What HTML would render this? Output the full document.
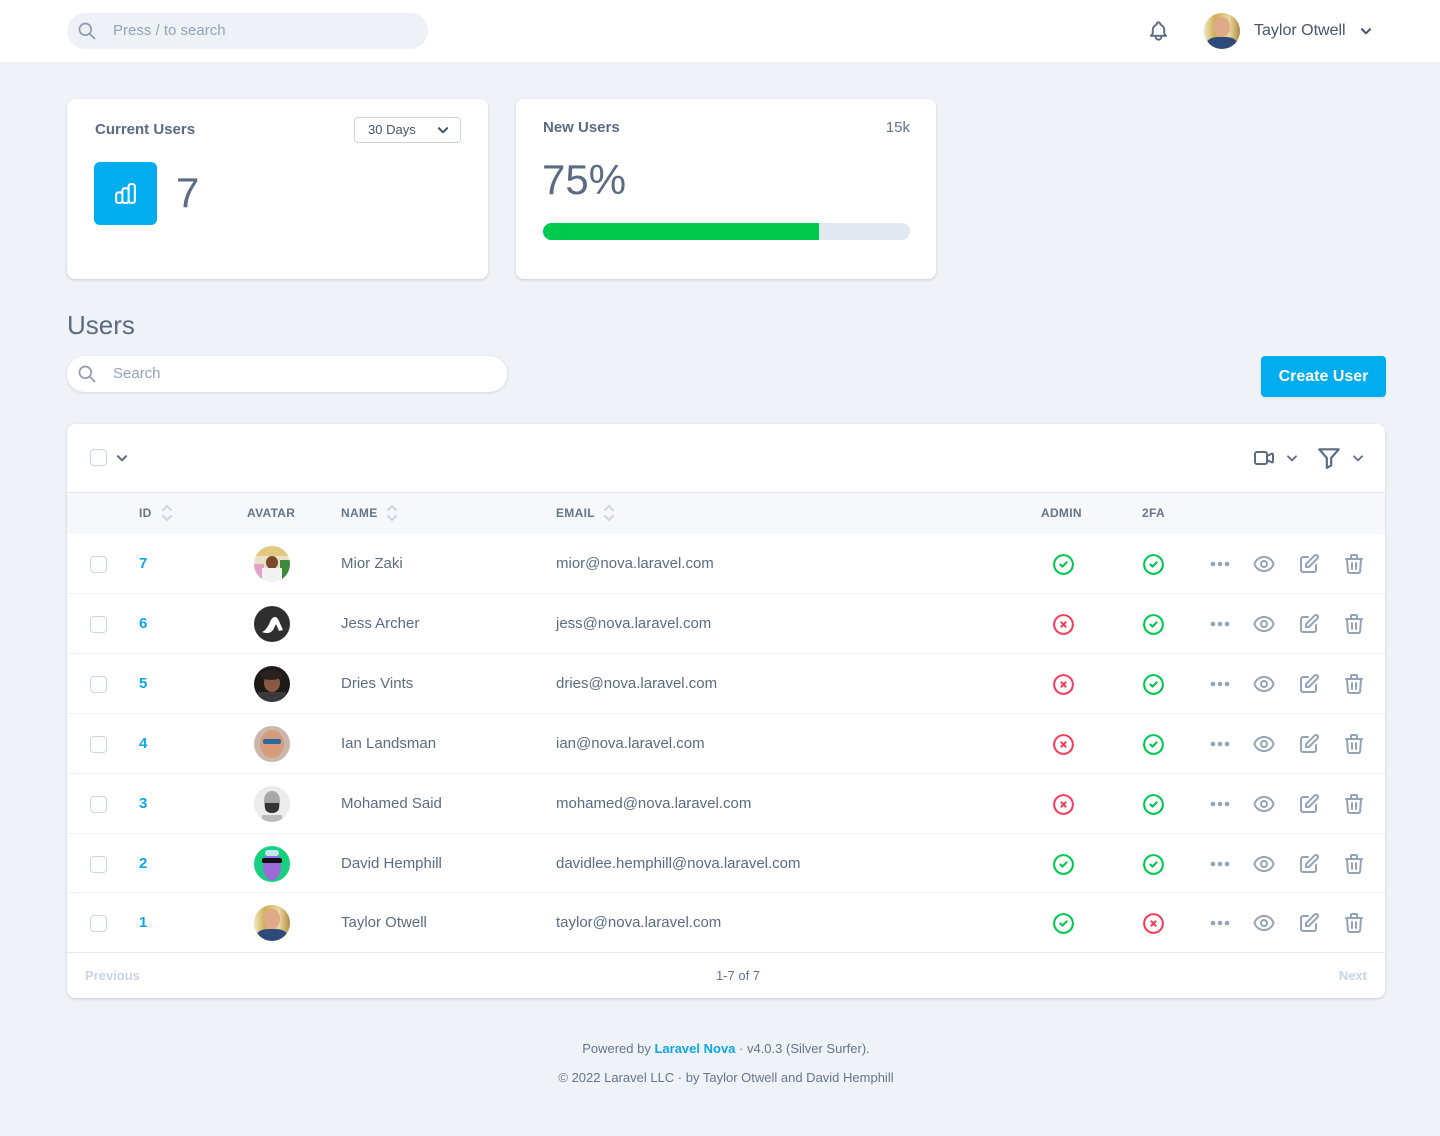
<!DOCTYPE html>
<html><head><meta charset="utf-8"><style>
*{margin:0;padding:0;box-sizing:border-box}
body{width:1440px;height:1136px;background:#eff3f8;font-family:"Liberation Sans",sans-serif;position:relative;overflow:hidden;color:#64748b}
.a{position:absolute}
.t{position:absolute;white-space:nowrap}
svg{display:block}
.card{position:absolute;background:#fff;border-radius:8px;box-shadow:0 1px 3px rgba(15,23,42,.12),0 1px 2px rgba(15,23,42,.06)}
.cb{position:absolute;width:17px;height:17px;border:1.5px solid #cbd5e1;border-radius:4px;background:#fff}
.th{position:absolute;font-size:12px;font-weight:bold;color:#64748b;letter-spacing:.3px;line-height:14px}
.id{position:absolute;font-size:15px;font-weight:bold;color:#0ea5e9;line-height:18px}
.nm{position:absolute;font-size:15px;color:#5b6b82;line-height:18px}
.sep{position:absolute;left:67px;width:1318px;height:1px;background:#eef2f6}
.av{position:absolute;width:36px;height:36px;border-radius:50%;overflow:hidden}
</style></head><body>

<!-- header -->
<div class="a" style="left:0;top:0;width:1440px;height:62px;background:#fff"></div>
<div class="a" style="left:67px;top:13px;width:361px;height:36px;border-radius:18px;background:#eef2f7"></div>
<svg class="a" style="left:77px;top:21px" width="20" height="20" viewBox="0 0 24 24" fill="none" stroke="#8a9ab0" stroke-width="2" stroke-linecap="round"><path d="M21 21l-6-6m2-5a7 7 0 11-14 0 7 7 0 0114 0z"/></svg>
<div class="t" style="left:113px;top:22px;font-size:15px;line-height:18px;color:#94a3b8">Press / to search</div>

<svg class="a" style="left:1147px;top:19px" width="23" height="24" viewBox="0 0 24 24" fill="none" stroke="#5b6b82" stroke-width="2" stroke-linecap="round" stroke-linejoin="round"><path d="M15 17h5l-1.405-1.405A2.032 2.032 0 0118 14.158V11a6.002 6.002 0 00-4-5.659V5a2 2 0 10-4 0v.341C7.670 6.165 6 8.388 6 11v3.159c0 .538-.214 1.055-.595 1.436L4 17h5m6 0v1a3 3 0 11-6 0v-1m6 0H9"/></svg>
<div class="av" style="left:1204px;top:13px;background:#d9c48a">
 <div class="a" style="left:0;top:0;width:36px;height:36px;background:linear-gradient(90deg,#f1e7c0 0%,#cfae5a 30%,#e8d9a0 70%,#b08a40 100%)"></div>
 <div class="a" style="left:10px;top:4px;width:16px;height:20px;border-radius:50%;background:#e0a98a"></div>
 <div class="a" style="left:3px;top:24px;width:30px;height:14px;border-radius:40% 40% 0 0;background:#2d4a7a"></div>
</div>
<div class="t" style="left:1254px;top:21px;font-size:16px;line-height:20px;color:#475569">Taylor Otwell</div>
<svg class="a" style="left:1359px;top:24px" width="14" height="14" viewBox="0 0 24 24" fill="none" stroke="#475569" stroke-width="3.5" stroke-linecap="round" stroke-linejoin="round"><path d="M19 9l-7 7-7-7"/></svg>

<!-- card 1 -->
<div class="card" style="left:67px;top:99px;width:421px;height:180px"></div>
<div class="t" style="left:95px;top:121px;font-size:15px;font-weight:bold;line-height:18px;color:#5b6b82">Current Users</div>
<div class="a" style="left:354px;top:117px;width:107px;height:26px;border:1px solid #cbd5e1;border-radius:4px;background:#fff"></div>
<div class="t" style="left:368px;top:122px;font-size:13px;line-height:16px;color:#475569">30 Days</div>
<svg class="a" style="left:436px;top:123px" width="14" height="14" viewBox="0 0 24 24" fill="none" stroke="#475569" stroke-width="3.5" stroke-linecap="round" stroke-linejoin="round"><path d="M19 9l-7 7-7-7"/></svg>
<div class="a" style="left:94px;top:162px;width:63px;height:63px;border-radius:6px;background:#01adef"></div>
<svg class="a" style="left:113px;top:181px" width="25" height="25" viewBox="0 0 24 24" fill="none" stroke="#fff" stroke-width="2" stroke-linecap="round" stroke-linejoin="round"><path d="M9 19v-6a2 2 0 00-2-2H5a2 2 0 00-2 2v6a2 2 0 002 2h2a2 2 0 002-2zm0 0V9a2 2 0 012-2h2a2 2 0 012 2v10m-6 0a2 2 0 002 2h2a2 2 0 002-2m0 0V5a2 2 0 012-2h2a2 2 0 012 2v14a2 2 0 01-2 2h-2a2 2 0 01-2-2z"/></svg>
<div class="t" style="left:176px;top:169px;font-size:42px;line-height:48px;color:#5b6b82">7</div>

<!-- card 2 -->
<div class="card" style="left:516px;top:99px;width:420px;height:180px"></div>
<div class="t" style="left:543px;top:119px;font-size:15px;font-weight:bold;line-height:18px;color:#5b6b82">New Users</div>
<div class="t" style="left:870px;top:119px;width:40px;text-align:right;font-size:15px;line-height:18px;color:#64748b">15k</div>
<div class="t" style="left:542px;top:155px;font-size:42px;line-height:50px;color:#5b6b82">75%</div>
<div class="a" style="left:543px;top:223px;width:367px;height:17px;border-radius:9px;background:#e2e8f0;overflow:hidden">
 <div class="a" style="left:0;top:0;width:276px;height:17px;background:#00c94f"></div>
</div>

<!-- Users heading -->
<div class="t" style="left:67px;top:309px;font-size:26px;line-height:32px;color:#5b6b82">Users</div>
<div class="a" style="left:67px;top:356px;width:440px;height:36px;border-radius:18px;background:#fff;box-shadow:0 1px 3px rgba(15,23,42,.12)"></div>
<svg class="a" style="left:77px;top:364px" width="20" height="20" viewBox="0 0 24 24" fill="none" stroke="#8a9ab0" stroke-width="2" stroke-linecap="round"><path d="M21 21l-6-6m2-5a7 7 0 11-14 0 7 7 0 0114 0z"/></svg>
<div class="t" style="left:113px;top:365px;font-size:15px;line-height:18px;color:#94a3b8">Search</div>
<div class="a" style="left:1261px;top:356px;width:125px;height:41px;border-radius:4px;background:#01adef;box-shadow:0 1px 2px rgba(0,0,0,.08)"></div>
<div class="t" style="left:1261px;top:367px;width:125px;text-align:center;font-size:16px;font-weight:bold;line-height:19px;color:#fff">Create User</div>

<!-- table card -->
<div class="card" style="left:67px;top:424px;width:1318px;height:574px;overflow:hidden">
 <div class="a" style="left:0;top:68px;width:1318px;height:1px;background:#e2e8f0"></div>
 <div class="a" style="left:0;top:69px;width:1318px;height:41px;background:#f6f8fb"></div>
 <div class="a" style="left:0;top:528px;width:1318px;height:1px;background:#e2e8f0"></div>
</div>
<div class="cb" style="left:90px;top:449px"></div>
<svg class="a" style="left:115px;top:451px" width="14" height="14" viewBox="0 0 24 24" fill="none" stroke="#5b6b82" stroke-width="3.5" stroke-linecap="round" stroke-linejoin="round"><path d="M19 9l-7 7-7-7"/></svg>
<svg class="a" style="left:1252px;top:446px" width="24" height="24" viewBox="0 0 24 24" fill="none" stroke="#5b6b82" stroke-width="2" stroke-linecap="round" stroke-linejoin="round"><path d="M15 10l4.553-2.276A1 1 0 0121 8.618v6.764a1 1 0 01-1.447.894L15 14M5 18h8a2 2 0 002-2V8a2 2 0 00-2-2H5a2 2 0 00-2 2v8a2 2 0 002 2z"/></svg>
<svg class="a" style="left:1285px;top:451px" width="14" height="14" viewBox="0 0 24 24" fill="none" stroke="#5b6b82" stroke-width="3" stroke-linecap="round" stroke-linejoin="round"><path d="M19 9l-7 7-7-7"/></svg>
<svg class="a" style="left:1316px;top:445px" width="26" height="26" viewBox="0 0 24 24" fill="none" stroke="#5b6b82" stroke-width="2" stroke-linecap="round" stroke-linejoin="round"><path d="M3 4h18l-7 8v7l-4 2v-9z"/></svg>
<svg class="a" style="left:1351px;top:451px" width="14" height="14" viewBox="0 0 24 24" fill="none" stroke="#5b6b82" stroke-width="3" stroke-linecap="round" stroke-linejoin="round"><path d="M19 9l-7 7-7-7"/></svg>

<!-- header row -->
<div class="th" style="left:139px;top:506px">ID</div>
<svg class="a" style="left:160px;top:503px" width="14" height="20" viewBox="0 0 14 20" fill="none" stroke="#cbd5e1" stroke-width="2" stroke-linecap="round" stroke-linejoin="round"><path d="M3 7l4-4 4 4M3 13l4 4 4-4"/></svg>
<div class="th" style="left:247px;top:506px">AVATAR</div>
<div class="th" style="left:341px;top:506px">NAME</div>
<svg class="a" style="left:385px;top:503px" width="14" height="20" viewBox="0 0 14 20" fill="none" stroke="#cbd5e1" stroke-width="2" stroke-linecap="round" stroke-linejoin="round"><path d="M3 7l4-4 4 4M3 13l4 4 4-4"/></svg>
<div class="th" style="left:556px;top:506px">EMAIL</div>
<svg class="a" style="left:602px;top:503px" width="14" height="20" viewBox="0 0 14 20" fill="none" stroke="#cbd5e1" stroke-width="2" stroke-linecap="round" stroke-linejoin="round"><path d="M3 7l4-4 4 4M3 13l4 4 4-4"/></svg>
<div class="th" style="left:1041px;top:506px">ADMIN</div>
<div class="th" style="left:1142px;top:506px">2FA</div>

<!-- separators -->
<div class="sep" style="top:593px"></div>
<div class="sep" style="top:653px"></div>
<div class="sep" style="top:713px"></div>
<div class="sep" style="top:773px"></div>
<div class="sep" style="top:833px"></div>
<div class="sep" style="top:892px"></div>

<svg width="0" height="0" style="position:absolute">
 <defs>
  <symbol id="ok" viewBox="0 0 24 24"><path d="M9 12l2 2 4-4m6 2a9 9 0 11-18 0 9 9 0 0118 0z" fill="none" stroke="#00c94f" stroke-width="2" stroke-linecap="round" stroke-linejoin="round"/></symbol>
  <symbol id="no" viewBox="0 0 24 24"><path d="M10 14l2-2m0 0l2-2m-2 2l-2-2m2 2l2 2m7-2a9 9 0 11-18 0 9 9 0 0118 0z" fill="none" stroke="#f43f5e" stroke-width="2" stroke-linecap="round" stroke-linejoin="round"/></symbol>
  <symbol id="acts" viewBox="0 0 180 26">
   <circle cx="3" cy="13" r="2.3" fill="#94a3b8"/><circle cx="10" cy="13" r="2.3" fill="#94a3b8"/><circle cx="17" cy="13" r="2.3" fill="#94a3b8"/>
   <g transform="translate(42,1)" fill="none" stroke="#94a3b8" stroke-width="2" stroke-linecap="round" stroke-linejoin="round"><path d="M15 12a3 3 0 11-6 0 3 3 0 016 0z"/><path d="M2.458 12C3.732 7.943 7.523 5 12 5c4.478 0 8.268 2.943 9.542 7-1.274 4.057-5.064 7-9.542 7-4.477 0-8.268-2.943-9.542-7z"/></g>
   <g transform="translate(87,1)" fill="none" stroke="#94a3b8" stroke-width="2" stroke-linecap="round" stroke-linejoin="round"><path d="M11 5H6a2 2 0 00-2 2v11a2 2 0 002 2h11a2 2 0 002-2v-5m-1.414-9.414a2 2 0 112.828 2.828L11.828 15H9v-2.828l8.586-8.586z"/></g>
   <g transform="translate(132,1)" fill="none" stroke="#94a3b8" stroke-width="2" stroke-linecap="round" stroke-linejoin="round"><path d="M19 7l-.867 12.142A2 2 0 0116.138 21H7.862a2 2 0 01-1.995-1.858L5 7m5 4v6m4-6v6m1-10V4a1 1 0 00-1-1h-4a1 1 0 00-1 1v3M4 7h16"/></g>
  </symbol>
 </defs>
</svg>

<!-- row 7 -->
<div class="cb" style="left:90px;top:556px"></div>
<div class="id" style="left:139px;top:555px">7</div>
<div class="av" style="left:254px;top:546px;background:#e9e2c8"><div class="a" style="left:0;top:0;width:36px;height:10px;background:#e3c882"></div><div class="a" style="left:0;top:18px;width:10px;height:18px;background:#e6a0c8"></div><div class="a" style="left:26px;top:14px;width:10px;height:22px;background:#3f8a3a"></div><div class="a" style="left:12px;top:10px;width:12px;height:13px;border-radius:50%;background:#7a4a2e"></div><div class="a" style="left:8px;top:22px;width:20px;height:14px;background:#f2f2f2"></div></div>
<div class="nm" style="left:341px;top:555px">Mior Zaki</div>
<div class="nm" style="left:556px;top:555px">mior@nova.laravel.com</div>
<svg class="a" style="left:1051px;top:552px" width="25" height="25"><use href="#ok"/></svg>
<svg class="a" style="left:1141px;top:552px" width="25" height="25"><use href="#ok"/></svg>
<svg class="a" style="left:1210px;top:551px" width="180" height="26"><use href="#acts"/></svg>

<!-- row 6 -->
<div class="cb" style="left:90px;top:616px"></div>
<div class="id" style="left:139px;top:615px">6</div>
<div class="av" style="left:254px;top:606px;background:#2f2f2f"><svg class="a" style="left:0;top:0" width="36" height="36" viewBox="0 0 36 36"><path d="M8 26c3-1 6-5 8-10 1-3 3-5 5-5 2 0 3 2 4 4l4 9-4 1-3-7-3 6c-2 3-6 4-11 2z" fill="#fff"/></svg></div>
<div class="nm" style="left:341px;top:615px">Jess Archer</div>
<div class="nm" style="left:556px;top:615px">jess@nova.laravel.com</div>
<svg class="a" style="left:1051px;top:612px" width="25" height="25"><use href="#no"/></svg>
<svg class="a" style="left:1141px;top:612px" width="25" height="25"><use href="#ok"/></svg>
<svg class="a" style="left:1210px;top:611px" width="180" height="26"><use href="#acts"/></svg>

<!-- row 5 -->
<div class="cb" style="left:90px;top:676px"></div>
<div class="id" style="left:139px;top:675px">5</div>
<div class="av" style="left:254px;top:666px;background:#1e1a18"><div class="a" style="left:10px;top:8px;width:16px;height:18px;border-radius:50%;background:#8a5a40"></div><div class="a" style="left:6px;top:4px;width:22px;height:10px;border-radius:50%;background:#2a2220"></div><div class="a" style="left:4px;top:26px;width:28px;height:10px;background:#3a3a3a"></div></div>
<div class="nm" style="left:341px;top:675px">Dries Vints</div>
<div class="nm" style="left:556px;top:675px">dries@nova.laravel.com</div>
<svg class="a" style="left:1051px;top:672px" width="25" height="25"><use href="#no"/></svg>
<svg class="a" style="left:1141px;top:672px" width="25" height="25"><use href="#ok"/></svg>
<svg class="a" style="left:1210px;top:671px" width="180" height="26"><use href="#acts"/></svg>

<!-- row 4 -->
<div class="cb" style="left:90px;top:736px"></div>
<div class="id" style="left:139px;top:735px">4</div>
<div class="av" style="left:254px;top:726px;background:#c9b8a8"><div class="a" style="left:6px;top:4px;width:24px;height:28px;border-radius:50%;background:#d79a7c"></div><div class="a" style="left:9px;top:13px;width:18px;height:5px;background:#2a6a9a;border-radius:2px"></div></div>
<div class="nm" style="left:341px;top:735px">Ian Landsman</div>
<div class="nm" style="left:556px;top:735px">ian@nova.laravel.com</div>
<svg class="a" style="left:1051px;top:732px" width="25" height="25"><use href="#no"/></svg>
<svg class="a" style="left:1141px;top:732px" width="25" height="25"><use href="#ok"/></svg>
<svg class="a" style="left:1210px;top:731px" width="180" height="26"><use href="#acts"/></svg>

<!-- row 3 -->
<div class="cb" style="left:90px;top:796px"></div>
<div class="id" style="left:139px;top:795px">3</div>
<div class="av" style="left:254px;top:786px;background:#ececec"><div class="a" style="left:10px;top:5px;width:16px;height:22px;border-radius:45%;background:#a8a8a8"></div><div class="a" style="left:11px;top:17px;width:14px;height:10px;border-radius:0 0 50% 50%;background:#333"></div><div class="a" style="left:8px;top:29px;width:20px;height:7px;background:#bbb"></div></div>
<div class="nm" style="left:341px;top:795px">Mohamed Said</div>
<div class="nm" style="left:556px;top:795px">mohamed@nova.laravel.com</div>
<svg class="a" style="left:1051px;top:792px" width="25" height="25"><use href="#no"/></svg>
<svg class="a" style="left:1141px;top:792px" width="25" height="25"><use href="#ok"/></svg>
<svg class="a" style="left:1210px;top:791px" width="180" height="26"><use href="#acts"/></svg>

<!-- row 2 -->
<div class="cb" style="left:90px;top:856px"></div>
<div class="id" style="left:139px;top:855px">2</div>
<div class="av" style="left:254px;top:846px;background:#16d27e"><div class="a" style="left:9px;top:6px;width:18px;height:28px;border-radius:45%;background:#9b6ad8"></div><div class="a" style="left:8px;top:12px;width:20px;height:5px;background:#111;border-radius:2px"></div><div class="a" style="left:11px;top:4px;width:14px;height:6px;background:#bfe8f0;border-radius:3px"></div></div>
<div class="nm" style="left:341px;top:855px">David Hemphill</div>
<div class="nm" style="left:556px;top:855px">davidlee.hemphill@nova.laravel.com</div>
<svg class="a" style="left:1051px;top:852px" width="25" height="25"><use href="#ok"/></svg>
<svg class="a" style="left:1141px;top:852px" width="25" height="25"><use href="#ok"/></svg>
<svg class="a" style="left:1210px;top:851px" width="180" height="26"><use href="#acts"/></svg>

<!-- row 1 -->
<div class="cb" style="left:90px;top:915px"></div>
<div class="id" style="left:139px;top:914px">1</div>
<div class="av" style="left:254px;top:905px;background:#d9c48a">
 <div class="a" style="left:0;top:0;width:36px;height:36px;background:linear-gradient(90deg,#f1e7c0 0%,#cfae5a 30%,#e8d9a0 70%,#b08a40 100%)"></div>
 <div class="a" style="left:10px;top:4px;width:16px;height:20px;border-radius:50%;background:#e0a98a"></div>
 <div class="a" style="left:3px;top:24px;width:30px;height:14px;border-radius:40% 40% 0 0;background:#2d4a7a"></div>
</div>
<div class="nm" style="left:341px;top:914px">Taylor Otwell</div>
<div class="nm" style="left:556px;top:914px">taylor@nova.laravel.com</div>
<svg class="a" style="left:1051px;top:911px" width="25" height="25"><use href="#ok"/></svg>
<svg class="a" style="left:1141px;top:911px" width="25" height="25"><use href="#no"/></svg>
<svg class="a" style="left:1210px;top:910px" width="180" height="26"><use href="#acts"/></svg>

<!-- pagination -->
<div class="t" style="left:85px;top:968px;font-size:13px;font-weight:bold;line-height:16px;color:#cbd5e1">Previous</div>
<div class="t" style="left:688px;top:968px;width:100px;text-align:center;font-size:13px;line-height:16px;color:#64748b">1-7 of 7</div>
<div class="t" style="left:1317px;top:968px;width:50px;text-align:right;font-size:13px;font-weight:bold;line-height:16px;color:#cbd5e1">Next</div>

<!-- footer -->
<div class="t" style="left:426px;top:1041px;width:600px;text-align:center;font-size:13px;line-height:16px;color:#64748b">Powered by <b style="color:#0ea5e9">Laravel Nova</b> · v4.0.3 (Silver Surfer).</div>
<div class="t" style="left:426px;top:1070px;width:600px;text-align:center;font-size:13px;line-height:16px;color:#64748b">© 2022 Laravel LLC · by Taylor Otwell and David Hemphill</div>

</body></html>
